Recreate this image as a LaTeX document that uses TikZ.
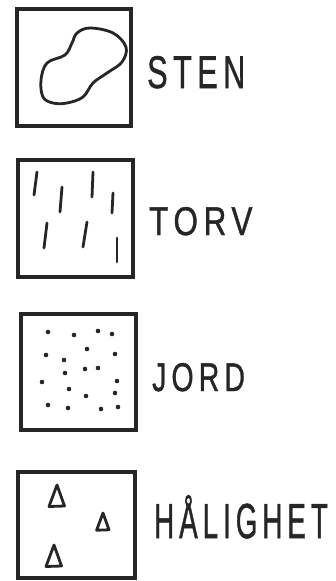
\documentclass[tikz,border=0pt]{standalone}
\usepackage{fontspec}
\setmainfont{Liberation Sans}
\usepackage{graphicx}
\usetikzlibrary{positioning}

\begin{document}
\begin{tikzpicture}[
  x=1pt, y=-1pt,
  legbox/.style={draw=black!85, line width=3.4pt, inner sep=0pt, fill=white},
  legtext/.style={anchor=base west, inner sep=0pt, text=black!85,
                  font=\fontsize{42}{46}\selectfont\addfontfeatures{LetterSpace=18, FakeBold=1.2}},
  pen/.style={draw=black!85, line width=2.8pt, line cap=round, line join=round}
]
\useasboundingbox (0,0) rectangle (335,581);
% boxes
\node[legbox, minimum width=114pt, minimum height=117pt] (stenbox) at (74,67.5) {};
\node[legbox, minimum width=115pt, minimum height=117pt] (torvbox) at (75.5,218.5) {};
\node[legbox, minimum width=115pt, minimum height=116pt] (jordbox) at (78.5,372) {};
\node[legbox, minimum width=117pt, minimum height=106pt] (halbox) at (76.5,525) {};
% labels
\node[legtext] (sten) at (147,88) {\resizebox{93pt}{32pt}{STEN\hspace{-7pt}}};
\node[legtext] (torv) at (149,235) {\resizebox{98pt}{28pt}{TORV\hspace{-7pt}}};
\node[legtext] (jord) at (152,391) {\resizebox{88pt}{28pt}{JORD\hspace{-7pt}}};
\node[legtext] (halighet) at (154,538) {\resizebox{169pt}{43pt}{HÅLIGHET\hspace{-7pt}}};
% sten
\draw[pen] plot[smooth cycle, tension=0.6] coordinates {(72,43) (77,33) (90,28)
  (113,33) (126,47) (122,62) (107,73) (93,83) (83,97) (67,103) (53,103)
  (43,97) (41,80) (47,63) (65,55)};
% torv
\foreach \xa/\ya/\xb/\yb in {37/172/34/195, 62/187/60/212, 93/172/92/197,
  113/193/112/213, 47/223/44/248, 87/222/83/247, 117/238/117/262}
  \draw[pen] (\xa,\ya) -- (\xb,\yb);
% jord
\foreach \px/\py in {48/332, 74/335, 98/331, 112/334, 87/349, 46/355, 64/360,
  115/354, 85/369, 98/368, 65/373, 42/382, 117/381, 69/389, 115/393, 86/396,
  48/405, 68/408, 101/409, 118/407}
  \fill[black!85] (\px,\py) ellipse (2.3pt and 2.3pt);
% halighet
\foreach \tx/\ty/\s in {57/485/1, 103/513/0.8, 54/545/1}
  \draw[pen] (\tx,\ty) -- ++(7.5*\s,21*\s) -- ++(-15.5*\s,0.5*\s) -- cycle;
\end{tikzpicture}
\end{document}
